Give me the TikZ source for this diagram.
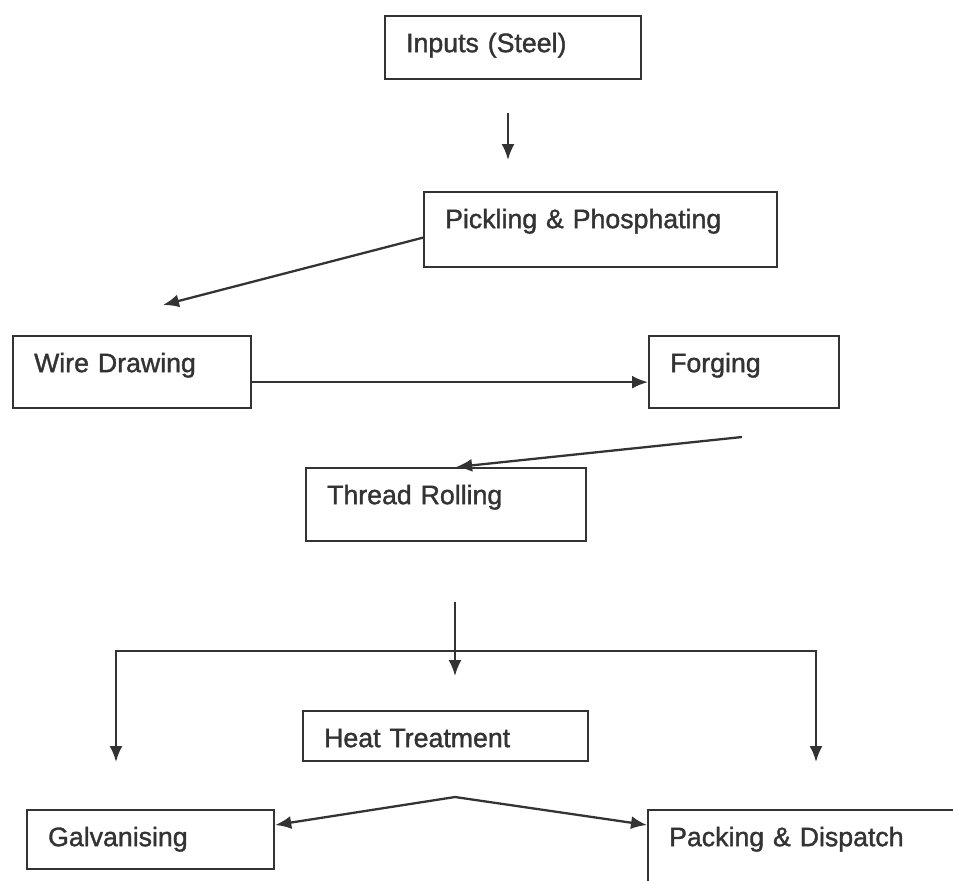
\documentclass[tikz,border=0pt]{standalone}
\usepackage{fontspec}
\newfontfamily\stagefont[FakeBold=1.3]{Liberation Sans}
\usetikzlibrary{arrows.meta}
\definecolor{ink}{HTML}{333333}

\begin{document}
\begin{tikzpicture} [x = 0.02cm, y = -0.02cm, ->, >= {Latex[length=3.2mm, width=2.6mm]}, line width = 1.3pt, draw = ink,
    stage/.style = {draw = ink, rectangle, anchor = north west, inner sep = 0pt, inner xsep = 0.42cm,
                    text height = 0.72cm, align = left, text = ink, font = \stagefont\fontsize{15.2}{18}\selectfont}]
        \clip (0, 0) rectangle (953, 880);

        \node [stage, text width = 4.28cm, text depth = 0.54cm] (inputs) at (384, 15) {Inputs (Steel)};
        \node [stage, text width = 6.22cm, text depth = 0.78cm] (pickling) at (423, 191) {Pickling \& Phosphating};
        \node [stage, text width = 3.92cm, text depth = 0.72cm] (wire) at (12, 335) {Wire Drawing};
        \node [stage, text width = 2.96cm, text depth = 0.72cm] (forging) at (648, 335) {Forging};
        \node [stage, text width = 4.76cm, text depth = 0.74cm] (thread) at (305, 467) {Thread Rolling};
        \node [stage, text width = 4.86cm, text depth = 0.28cm] (heat) at (302, 710) {Heat Treatment};
        \node [stage, text width = 4.10cm, text depth = 0.46cm] (galv) at (26, 809) {Galvanising};
        \node [stage, text width = 7.16cm, text depth = 1.68cm] (packing) at (647, 809) {Packing \& Dispatch};

        % free ends of the loose arrows
        \coordinate (in1) at (508, 113);
        \coordinate (in2) at (508, 160);
        \coordinate (fg1) at (742, 437);
        \coordinate (tr1) at (455, 602);
        \coordinate (tr2) at (455, 676);
        \coordinate (fork) at (455, 651);
        \coordinate (left) at (116, 762);
        \coordinate (right) at (816, 762);
        \coordinate (peak) at (455, 797);

        \path (in1) edge (in2);
        \path ([yshift=-0.16cm]pickling.west) edge (163, 305);
        \path ([yshift=-0.2cm]wire.east) edge ([yshift=-0.2cm]forging.west);
        \path (fg1) edge ([xshift=0.2cm]thread.north);
        \path (tr1) edge (tr2);

        \draw [<->] (left) |- (fork) -| (right);
        \draw [<->] ([yshift=-0.32cm]galv.north east) -- (peak) -- ([yshift=-0.32cm]packing.north west);

    \end{tikzpicture}
\end{document}
